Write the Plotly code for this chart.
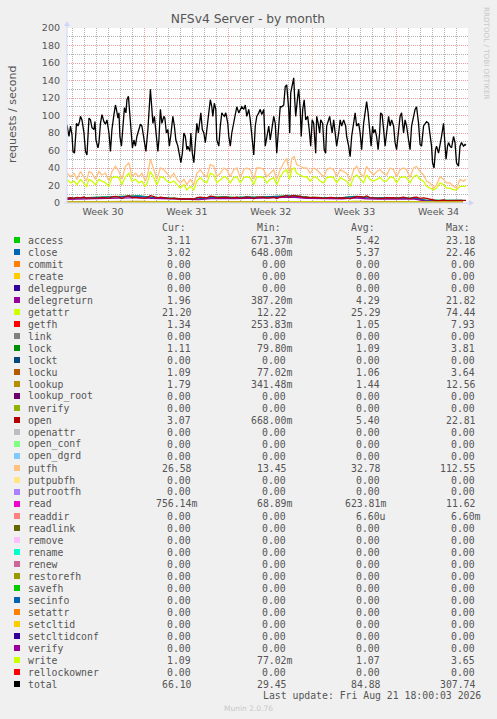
import plotly.graph_objects as go
import pandas as pd

# ---------------- data ----------------
T0 = pd.Timestamp("2026-07-19 11:00")          # time origin of the hour offsets
X_RANGE = ["2026-07-19 12:00", "2026-08-21 23:00"]
week_centers = ["2026-07-22 12:00", "2026-07-29 12:00", "2026-08-05 12:00",
                "2026-08-12 12:00", "2026-08-19 12:00"]
week_labels = ["Week 30", "Week 31", "Week 32", "Week 33", "Week 34"]
y_ticks = [0, 20, 40, 60, 80, 100, 120, 140, 160, 180, 200]

# total (hours after T0 / requests per second)
t_fine = [1,5,8,11,13,16,20,23,26,28, 31,35,38,41,45,48,51,55,57,59, 63,65,68,71,75,78,81,85,88,91,
          95,98,100,103,105,107,110,113,116,119, 121,124,127,129,132,135,138,141,145,148,
          151,153,157,159,163,165,168,171,173,176, 178,180,183,185,188,191,195,197,200,203,
          206,209,213,216,219,223,226,229,232,235, 238,241,243,247,249,252,255,258,261,264,
          267,269,272,275,278,281,285,288,291,293, 296,299,301,305,308,311,313,316,319,323,
          325,328,331,335,338,341,345,
          351,355,358,361,365,368,371,375,378,381, 385,388,391,395,398,401,405,408,411,415,
          418,421,425,428,431,435,438,441,445,447, 449,453,455,457,459,463,465,468,470,473,
          476,479,483,486,489,492,495,499,501,504, 507,509,513,516,519,521,524,527,529,532,
          535,537,541,545,548,551,555,559,561,565, 568,571,575,578,581,585,588,591,595,598,
          601,604,607,610,613,615,618,621,624,627, 629,632,635,638,641,645,648,651,655,658,
          661,665,668,671,675,678,681,685,688,691, 695,698,701,705,708,711,715,718,721,725,
          728,731,733,736,739,741,745,748,751,755, 757,760,763,765,768,771,775,778,781,785,
          788,791,795,798,800]
total = [89,76,88,78,59,57,91,88,93,99, 95,80,59,55,97,95,86,84,93,72, 63,69,91,101,93,90,95,80,59,84,
         101,112,107,97,103,76,65,91,109,103, 118,122,99,88,63,72,65,76,86,90,
         88,80,65,59,84,105,130,107,91,99, 88,80,59,72,107,91,99,97,80,84,
         65,78,99,88,72,65,53,46,57,80, 76,61,65,59,80,57,46,65,91,80,
         95,103,84,80,69,84,103,118,110,99, 114,107,72,65,88,103,101,99,103,91,
         76,65,80,91,103,110,103,
         110,107,112,99,107,95,76,55,88,99, 103,107,101,107,65,76,88,72,84,99,
         91,57,88,110,110,112,133,135,107,80, 126,141,143,118,99,122,130,107,76,107,
         118,95,99,84,65,95,91,57,99,91, 80,95,91,61,57,88,95,99,91,80,
         95,84,65,80,95,88,95,88,76,65, 53,76,95,103,88,91,80,61,91,103,
         116,103,80,65,88,80,84,76,61,80, 103,101,84,65,80,99,88,95,88,69,
         61,80,99,103,80,95,88,72,61,88, 99,107,110,91,67,65,88,91,93,91,
         76,65,46,40,61,65,57,65,76,91, 76,50,65,69,65,63,76,69,46,42,
         65,69,65,67,66]

t_coarse = [1,8,15,21,28,35,40,45,51,58, 65,71,78,85,91,98,105,111,118,125,
            131,138,145,151,158,163,168,175,181,188, 195,201,208,215,221,228,235,241,248,255,
            261,268,275,281,288,295,301,308,315,321, 328,335,341,348,355,361,368,
            375,381,388,395,401,408,415,421,428,435, 441,447,451,456,461,468,475,481,488,495,
            501,508,515,521,528,535,541,548,555,561, 568,575,581,588,595,601,608,615,621,628,
            635,641,648,655,661,668,675,681,688,695, 701,708,715,721,728,735,741,748,755,761,
            768,775,781,788,795,800]
putfh = [34,30,34,27,36,29,25,36,34,27, 36,32,34,25,36,42,36,27,42,46,
         30,34,30,34,25,34,50,38,27,40, 38,34,29,34,27,23,27,21,27,21,
         34,38,32,30,44,42,30,34,40,38, 30,38,40,29,38,40,38,
         27,40,40,38,30,34,38,27,38,46, 51,34,51,53,44,42,40,40,34,40,
         38,34,30,38,40,38,30,38,36,34, 25,38,42,34,30,42,36,32,36,38,
         34,32,40,38,30,38,40,38,29,40, 42,36,32,25,23,17,21,30,27,23,
         23,19,17,27,25,27]
getattr_v = [27,23,25,21,27,23,19,27,25,21, 27,25,23,19,29,30,29,21,30,34,
             25,27,23,25,19,25,36,29,21,30, 29,25,23,25,21,17,21,15,19,15,
             25,29,25,23,34,32,23,27,30,29, 23,29,30,23,29,30,29,
             21,30,30,29,23,27,29,21,30,36, 38,27,38,40,34,32,30,30,25,30,
             29,25,23,29,30,29,23,29,27,25, 19,29,32,27,23,32,27,25,27,29,
             25,25,30,29,23,29,30,29,23,30, 32,27,25,19,17,15,17,23,21,17,
             17,15,15,19,19,19]
open_v = [5.5,6.0,5.2,6.3,5.8,6.8,5.0,6.2,5.9,5.4, 5.6,6.4,6.0,5.3,7.0,7.6,6.8,5.2,7.4,8.3,
          6.2,6.6,5.8,6.0,5.4,6.8,8.4,7.2,5.6,6.8, 6.2,5.8,5.0,5.6,4.9,4.6,5.0,4.4,4.9,4.5,
          6.0,6.6,6.2,5.8,7.8,7.4,6.0,6.4,7.0,6.8, 5.6,6.6,6.8,5.4,6.6,7.0,6.4,
          4.8,6.8,7.2,6.8,5.6,6.0,6.6,5.0,7.0,7.6, 8.6,6.6,8.4,8.8,7.6,7.8,6.2,7.0,6.0,6.4,
          6.6,6.0,5.4,6.0,6.4,6.2,5.2,6.0,6.2,5.6, 4.8,6.8,7.6,7.4,6.6,8.0,6.2,5.8,5.6,6.2,
          5.4,6.2,6.4,6.0,5.2,6.2,6.6,5.8,5.0,6.4, 6.8,5.2,5.8,5.4,4.4,3.0,2.6,2.8,3.4,2.8,
          3.0,3.2,2.6,3.4,3.2,3.1]

t_day = [1,25,49,73,97,121,145,169,193,217,241,265,289,313,337,361,385,409,433,457,
         481,505,529,553,577,601,625,649,673,697,721,745,769,793]
access = [5.4,5.8,5.6,6.6,7.2,7.8,8.0,6.6,6.0,5.0,4.6,4.8,6.4,7.0,6.4,6.8,6.6,7.4,8.2,8.4,
          6.6,6.0,5.8,6.2,7.6,6.2,6.0,6.0,6.2,5.6,3.0,2.8,3.2,3.1]
close = [5.2,5.6,5.4,6.4,7.0,7.6,7.8,6.4,5.8,4.8,4.4,4.6,6.2,6.8,6.2,6.6,6.4,7.2,8.0,8.2,
         6.4,5.8,5.6,6.0,7.4,6.0,5.8,5.8,6.0,5.4,2.9,2.7,3.1,3.0]
delegreturn = [4.2,4.6,4.4,5.2,5.6,6.0,6.2,5.2,4.8,4.0,3.6,3.8,5.0,5.4,5.0,5.2,5.2,5.8,6.4,6.6,
               5.2,4.8,4.6,4.8,6.0,4.8,4.6,4.6,4.8,4.4,2.2,2.0,2.2,2.0]
getfh = [1.0,1.1,1.0,1.2,1.3,1.4,1.3,1.1,1.0,0.9,0.8,0.9,1.1,1.2,1.1,1.2,1.1,1.3,1.5,1.5,
         1.1,1.0,1.0,1.1,1.3,1.1,1.0,1.0,1.1,1.0,1.2,1.3,1.3,1.3]
lock = [1.1,1.1,1.0,1.1,1.2,1.2,1.2,1.1,1.1,1.0,0.9,1.0,1.1,1.2,1.1,1.1,1.1,1.2,1.3,1.3,
        1.1,1.1,1.0,1.1,1.2,1.1,1.0,1.1,1.1,1.0,1.0,1.1,1.1,1.1]
locku = [1.0,1.1,1.0,1.1,1.1,1.2,1.2,1.0,1.0,1.0,0.9,0.9,1.1,1.1,1.1,1.1,1.0,1.2,1.3,1.2,
         1.1,1.0,1.0,1.1,1.2,1.0,1.0,1.0,1.1,1.0,1.0,1.0,1.1,1.1]
lookup = [1.3,1.5,1.4,1.6,1.7,1.8,1.7,1.5,1.4,1.2,1.1,1.2,1.5,1.6,1.5,1.6,1.5,1.7,1.9,2.0,
          1.5,1.4,1.3,1.4,1.7,1.4,1.3,1.4,1.4,1.3,1.6,1.7,1.8,1.8]
read = [0.6,0.7,0.6,0.7,0.8,0.9,0.8,0.6,0.5,0.4,0.4,0.4,0.6,0.7,0.6,0.7,0.6,0.8,1.0,1.0,
        0.6,0.6,0.5,0.6,0.8,0.6,0.5,0.6,0.6,0.5,0.6,0.7,0.8,0.8]
write = [1.0,1.1,1.0,1.1,1.2,1.2,1.1,1.1,1.0,1.0,0.9,1.0,1.1,1.1,1.1,1.1,1.1,1.2,1.3,1.3,
         1.1,1.0,1.0,1.1,1.2,1.1,1.0,1.1,1.1,1.0,1.0,1.1,1.1,1.1]

names = ["access", "close", "commit", "create", "delegpurge", "delegreturn", "getattr", "getfh",
         "link", "lock", "lockt", "locku", "lookup", "lookup_root", "nverify", "open", "openattr",
         "open_conf", "open_dgrd", "putfh", "putpubfh", "putrootfh", "read", "readdir", "readlink",
         "remove", "rename", "renew", "restorefh", "savefh", "secinfo", "setattr", "setcltid",
         "setcltidconf", "verify", "write", "rellockowner", "total"]
colors = ["#00CC00", "#0066B3", "#FF8000", "#FFCC00", "#330099", "#990099", "#CCFF00", "#FF0000",
          "#808080", "#008F00", "#00487D", "#B35A00", "#B38F00", "#6B006B", "#8FB300", "#B30000",
          "#BEBEBE", "#80FF80", "#80C9FF", "#FFC080", "#FFE680", "#AA80FF", "#EE00CC", "#FF8080",
          "#666600", "#FFBFFF", "#00FFCC", "#CC6699", "#999900", "#00CC00", "#0066B3", "#FF8000",
          "#FFCC00", "#330099", "#990099", "#CCFF00", "#FF0000", "#000000"]
cur_s = ["3.11", "3.02", "0.00", "0.00", "0.00", "1.96", "21.20", "1.34", "0.00", "1.11", "0.00",
         "1.09", "1.79", "0.00", "0.00", "3.07", "0.00", "0.00", "0.00", "26.58", "0.00", "0.00",
         "756.14m", "0.00", "0.00", "0.00", "0.00", "0.00", "0.00", "0.00", "0.00", "0.00", "0.00",
         "0.00", "0.00", "1.09", "0.00", "66.10"]
min_s = ["671.37m", "648.00m", "0.00", "0.00", "0.00", "387.20m", "12.22", "253.83m", "0.00",
         "79.80m", "0.00", "77.02m", "341.48m", "0.00", "0.00", "668.00m", "0.00", "0.00", "0.00",
         "13.45", "0.00", "0.00", "68.89m", "0.00", "0.00", "0.00", "0.00", "0.00", "0.00", "0.00",
         "0.00", "0.00", "0.00", "0.00", "0.00", "77.02m", "0.00", "29.45"]
avg_s = ["5.42", "5.37", "0.00", "0.00", "0.00", "4.29", "25.29", "1.05", "0.00", "1.09", "0.00",
         "1.06", "1.44", "0.00", "0.00", "5.40", "0.00", "0.00", "0.00", "32.78", "0.00", "0.00",
         "623.81m", "6.60u", "0.00", "0.00", "0.00", "0.00", "0.00", "0.00", "0.00", "0.00", "0.00",
         "0.00", "0.00", "1.07", "0.00", "84.88"]
max_s = ["23.18", "22.46", "0.00", "0.00", "0.00", "21.82", "74.44", "7.93", "0.00", "3.81", "0.00",
         "3.64", "12.56", "0.00", "0.00", "22.81", "0.00", "0.00", "0.00", "112.55", "0.00", "0.00",
         "11.62", "6.60m", "0.00", "0.00", "0.00", "0.00", "0.00", "0.00", "0.00", "0.00", "0.00",
         "0.00", "0.00", "3.65", "0.00", "307.74"]

series = {
    "access": (t_day, access), "close": (t_day, close), "delegreturn": (t_day, delegreturn),
    "getattr": (t_coarse, getattr_v), "getfh": (t_day, getfh), "lock": (t_day, lock),
    "locku": (t_day, locku), "lookup": (t_day, lookup), "open": (t_coarse, open_v),
    "putfh": (t_coarse, putfh), "read": (t_day, read), "write": (t_day, write),
    "total": (t_fine, total),
}

TITLE = "NFSv4 Server - by month"
YLABEL = "requests / second"
LAST_UPDATE = "Last update: Fri Aug 21 18:00:03 2026"
FOOTER = "Munin 2.0.76"
VENDOR = "RRDTOOL / TOBI OETIKER"

# ---------------- layout geometry (pixels) ----------------
W, H = 497, 719
PX0, PX1 = 67, 468      # plot left/right
PY1, PY0 = 28, 203      # plot top/bottom


def xp(px):
    return (px - PX0) / (PX1 - PX0)


def yp(py):
    return (PY0 - py) / (PY0 - PY1)


MONO = "DejaVu Sans Mono"
SANS = "DejaVu Sans"
FONT_C = "#555555"
GRID_MINOR = "rgba(143,143,143,0.7)"
GRID_MAJOR = "rgba(222,79,79,0.55)"
AXIS_C = "#CFD6F8"

fig = go.Figure()
for name, col in zip(names, colors):
    if name in series:
        t, v = series[name]
        fig.add_trace(go.Scatter(
            x=[T0 + pd.Timedelta(hours=h) for h in t], y=v, mode="lines",
            line=dict(color=col, width=1.3), name=name, showlegend=False, hoverinfo="skip"))

# secondary x axis carries the week labels
fig.add_trace(go.Scatter(x=week_centers, y=[None] * len(week_centers), xaxis="x2",
                         mode="markers", showlegend=False, hoverinfo="skip"))

# grid positions: daily minor lines except on the weekly (Sunday) major lines
day_grid = [d for d in pd.date_range("2026-07-19", "2026-08-22", freq="D") if d.dayofweek != 6]
y_minor = [v for v in range(10, 200, 20)]

annotations = []
shapes = []

# legend table
ROW0, ROWH = 240, 12
COL_EDGES = [199, 293.5, 388, 483]
NB = "\u00a0"


def fmt(s):
    return s if s[-1].isalpha() else s + NB


for hdr, edge in zip(["Cur:", "Min:", "Avg:", "Max:"], COL_EDGES):
    annotations.append(dict(x=xp(edge), y=yp(227.5), xref="paper", yref="paper", text=hdr + NB + NB,
                            xanchor="right", yanchor="middle", showarrow=False,
                            font=dict(family=MONO, size=9.8, color=FONT_C)))
for i, name in enumerate(names):
    ry = ROW0 + ROWH * i
    shapes.append(dict(type="rect", xref="paper", yref="paper", x0=xp(14), x1=xp(20),
                       y0=yp(ry + 3), y1=yp(ry - 3), fillcolor=colors[i], line=dict(width=0)))
    annotations.append(dict(x=xp(26), y=yp(ry), xref="paper", yref="paper", text=name,
                            xanchor="left", yanchor="middle", showarrow=False,
                            font=dict(family=MONO, size=9.8, color=FONT_C)))
    for vals, edge in zip([cur_s, min_s, avg_s, max_s], COL_EDGES):
        annotations.append(dict(x=xp(edge), y=yp(ry), xref="paper", yref="paper", text=fmt(vals[i]),
                                xanchor="right", yanchor="middle", showarrow=False,
                                font=dict(family=MONO, size=9.8, color=FONT_C)))

annotations.append(dict(x=xp(483), y=yp(695.5), xref="paper", yref="paper", text=LAST_UPDATE,
                        xanchor="right", yanchor="middle", showarrow=False,
                        font=dict(family=MONO, size=9.8, color=FONT_C)))
annotations.append(dict(x=xp(248), y=yp(708), xref="paper", yref="paper", text=FOOTER,
                        xanchor="center", yanchor="middle", showarrow=False,
                        font=dict(family=SANS, size=7.5, color="#c8c8c8")))
annotations.append(dict(x=xp(487), y=yp(53), xref="paper", yref="paper", text=VENDOR,
                        xanchor="center", yanchor="middle", showarrow=False, textangle=90,
                        font=dict(family=SANS, size=7.2, color="#c8c8c8")))
annotations.append(dict(x=xp(12), y=yp(115), xref="paper", yref="paper", text=YLABEL,
                        xanchor="center", yanchor="middle", showarrow=False, textangle=-90,
                        font=dict(family=SANS, size=11, color=FONT_C)))

# axis lines with arrows
shapes.append(dict(type="line", xref="paper", yref="paper", x0=xp(67), x1=xp(67),
                   y0=yp(203), y1=yp(24), line=dict(color=AXIS_C, width=1), layer="above"))
shapes.append(dict(type="line", xref="paper", yref="paper", x0=xp(64), x1=xp(471),
                   y0=yp(203), y1=yp(203), line=dict(color=AXIS_C, width=1), layer="above"))
shapes.append(dict(type="path", xref="paper", yref="paper",
                   path=f"M {xp(64)} {yp(26)} L {xp(70)} {yp(26)} L {xp(67)} {yp(21)} Z",
                   fillcolor=AXIS_C, line=dict(width=0), layer="above"))
shapes.append(dict(type="path", xref="paper", yref="paper",
                   path=f"M {xp(469)} {yp(200)} L {xp(469)} {yp(206)} L {xp(474)} {yp(203)} Z",
                   fillcolor=AXIS_C, line=dict(width=0), layer="above"))

fig.update_layout(
    template="none",
    width=W, height=H,
    margin=dict(l=PX0, r=W - PX1, t=PY1, b=H - PY0, pad=0, autoexpand=False),
    paper_bgcolor="#F0F0F0", plot_bgcolor="#FFFFFF",
    showlegend=False,
    hovermode=False, dragmode=False,
    title=dict(text=TITLE, x=248 / W, xanchor="center", y=1 - 19 / H, yanchor="middle",
               xref="container", yref="container",
               font=dict(family=SANS, size=12.3, color=FONT_C)),
    xaxis=dict(type="date", range=X_RANGE, showticklabels=False, ticks="",
               tickmode="linear", tick0="2026-07-26", dtick=7 * 86400000,
               showgrid=True, gridcolor=GRID_MAJOR, griddash="1px,1px", gridwidth=1,
               minor=dict(tickmode="array", tickvals=day_grid, showgrid=True,
                          gridcolor=GRID_MINOR, griddash="1px,1px", gridwidth=1, ticks=""),
               zeroline=False, showline=False, fixedrange=True, automargin=False),
    xaxis2=dict(type="date", range=X_RANGE, overlaying="x", anchor="y", side="bottom",
                tickmode="array", tickvals=week_centers, ticktext=week_labels,
                showgrid=False, ticks="", ticklabelstandoff=1, showline=False, zeroline=False,
                automargin=False, tickfont=dict(family=SANS, size=9.5, color=FONT_C)),
    yaxis=dict(range=[0, 200], tickmode="array", tickvals=y_ticks, ticks="",
               showgrid=True, gridcolor=GRID_MAJOR, griddash="1px,1px", gridwidth=1,
               minor=dict(tickmode="array", tickvals=y_minor, showgrid=True, gridcolor=GRID_MINOR,
                          griddash="1px,1px", gridwidth=1, ticks=""),
               ticklabelstandoff=6, zeroline=False, showline=False, automargin=False,
               fixedrange=True, tickfont=dict(family=SANS, size=9.5, color=FONT_C)),
    annotations=annotations, shapes=shapes,
)

fig.write_html("out.html", config={"displayModeBar": False, "staticPlot": True},
               post_script="document.body.style.margin='0px';")
